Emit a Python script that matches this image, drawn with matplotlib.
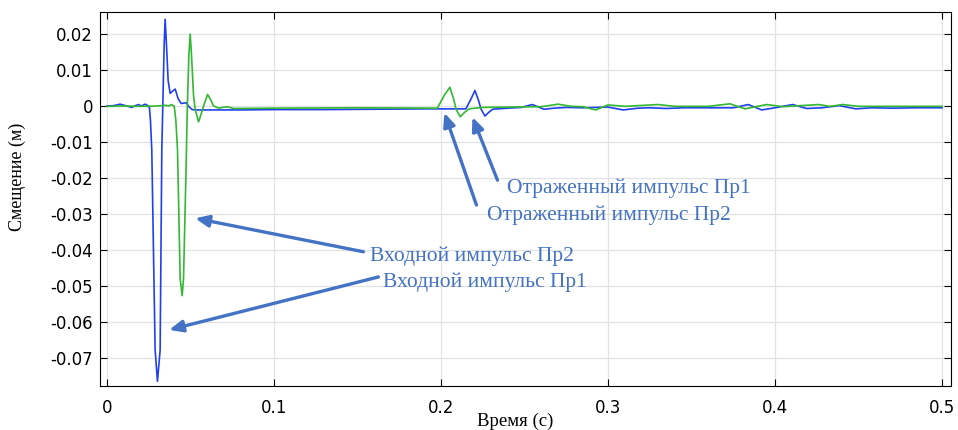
import matplotlib.pyplot as plt

plt.rcParams["axes.unicode_minus"] = False

# Pr1 (blue) — time, s / displacement, m
t_pr1 = [0.000, 0.004, 0.0078, 0.011, 0.0148, 0.0170, 0.0188, 0.0205, 0.0228, 0.0245,
         0.0254, 0.0260, 0.0268, 0.0288, 0.0302, 0.0318, 0.0328, 0.0334, 0.0342, 0.0348,
         0.0356, 0.0366, 0.0378, 0.0394, 0.0408, 0.0426, 0.0444, 0.0460, 0.0474, 0.0490,
         0.0510, 0.0530, 0.060, 0.080, 0.100, 0.130, 0.160, 0.190, 0.2149, 0.2180,
         0.2203, 0.2225, 0.2239, 0.2263, 0.2285, 0.2309, 0.240, 0.248, 0.2547, 0.2616,
         0.268, 0.275, 0.285, 0.300, 0.309, 0.318, 0.325, 0.335, 0.345, 0.360,
         0.375, 0.384, 0.392, 0.400, 0.4106, 0.419, 0.428, 0.4385, 0.4484, 0.458,
         0.470, 0.485, 0.500]
y_pr1 = [0.0000, 0.0001, 0.0005, 0.0001, -0.0004, 0.0001, 0.0004, 0.0000, 0.0005, 0.0001,
         -0.0005, -0.0040, -0.0122, -0.0678, -0.0765, -0.0678, -0.0122, 0.0000, 0.0170, 0.0241,
         0.0170, 0.0070, 0.0035, 0.0042, 0.0047, 0.0020, 0.0007, 0.0008, 0.0009, -0.0002,
         -0.0010, -0.0011, -0.0011, -0.0011, -0.0010, -0.0010, -0.0009, -0.0008, -0.0008, 0.0020,
         0.0043, 0.0015, -0.0008, -0.0028, -0.0018, -0.0009, -0.0006, -0.0004, 0.0004, -0.0009,
         -0.0006, -0.0004, -0.0005, -0.0003, -0.0011, -0.0006, -0.0005, -0.0007, -0.0005, -0.0005,
         -0.0005, 0.0004, -0.0011, -0.0005, 0.0004, -0.0007, -0.0005, 0.0001, -0.0008, -0.0005,
         -0.0006, -0.0005, -0.0005]

# Pr2 (green)
t_pr2 = [0.000, 0.010, 0.020, 0.030, 0.0350, 0.0370, 0.0385, 0.0395, 0.0402, 0.0412,
         0.0422, 0.0438, 0.0450, 0.0458, 0.0472, 0.0481, 0.0490, 0.0498, 0.0506, 0.0518,
         0.0528, 0.0548, 0.0562, 0.0578, 0.0602, 0.0620, 0.0638, 0.0668, 0.0718, 0.0760,
         0.100, 0.150, 0.1978, 0.2020, 0.2053, 0.2075, 0.2090, 0.2115, 0.2140, 0.2169,
         0.225, 0.240, 0.260, 0.270, 0.278, 0.285, 0.2926, 0.300, 0.310, 0.330,
         0.340, 0.360, 0.373, 0.382, 0.395, 0.405, 0.426, 0.433, 0.4406, 0.450,
         0.470, 0.500]
y_pr2 = [-0.0001, 0.0000, -0.0001, 0.0000, 0.0002, 0.0000, 0.0004, 0.0001, 0.0000, -0.0039,
         -0.0122, -0.0480, -0.0527, -0.0480, -0.0200, 0.0000, 0.0140, 0.0200, 0.0140, 0.0030,
         -0.0010, -0.0044, -0.0025, 0.0000, 0.0032, 0.0018, 0.0000, -0.0006, -0.0002, -0.0007,
         -0.0006, -0.0005, -0.0006, 0.0030, 0.0052, 0.0020, -0.0009, -0.0030, -0.0018, -0.0008,
         -0.0004, -0.0003, -0.0002, 0.0005, -0.0001, -0.0002, -0.0011, 0.0003, -0.0001, 0.0004,
         -0.0001, -0.0001, 0.0006, -0.0008, 0.0004, -0.0002, 0.0004, -0.0001, 0.0004, -0.0001,
         -0.0001, -0.0001]

x_ticks = [0, 0.1, 0.2, 0.3, 0.4, 0.5]
x_labels = ["0", "0.1", "0.2", "0.3", "0.4", "0.5"]
y_ticks = [0.02, 0.01, 0, -0.01, -0.02, -0.03, -0.04, -0.05, -0.06, -0.07]
y_labels = ["0.02", "0.01", "0", "-0.01", "-0.02", "-0.03", "-0.04", "-0.05", "-0.06", "-0.07"]

fig = plt.figure(figsize=(9.58, 4.30), dpi=100)
ax = fig.add_axes([0.1044, 0.1023, 0.888, 0.8697])

ax.plot(t_pr1, y_pr1, color="#2040f0", lw=1.2)
ax.plot(t_pr2, y_pr2, color="#33b833", lw=1.2)

ax.set_xlim(-0.0042, 0.5052)
ax.set_ylim(-0.0778, 0.0261)
ax.set_xticks(x_ticks, x_labels)
ax.set_yticks(y_ticks, y_labels)
ax.grid(True, color="#e2e2e2", lw=0.9)
ax.set_axisbelow(True)
ax.tick_params(direction="in", top=True, right=True, length=5, labelsize=12)
ax.tick_params(axis="y", pad=5)
ax.tick_params(axis="x", pad=9)

serif = "Liberation Serif"
ax.set_xlabel("Время (с)", family=serif, fontsize=13.5)
ax.xaxis.set_label_coords(0.488, -0.072)
ax.set_ylabel("Смещение (м)", family=serif, fontsize=13)
ax.yaxis.set_label_coords(-0.087, 0.559)

ann = "#4472c4"
arrow = dict(arrowstyle="-|>,head_length=0.8,head_width=0.35", color=ann, lw=2.4,
             shrinkA=0, shrinkB=0)
notes = [
    ("Отраженный импульс Пр1", (0.2398, -0.0228), (0.2338, -0.0206), (0.2188, -0.0031)),
    ("Отраженный импульс Пр2", (0.2278, -0.0303), (0.2212, -0.0275), (0.2020, -0.0019)),
    ("Входной импульс Пр2", (0.1577, -0.0417), (0.1535, -0.0405), (0.0528, -0.0312)),
    ("Входной импульс Пр1", (0.1655, -0.0489), (0.1625, -0.0475), (0.0372, -0.0622)),
]
for text, pos, tail, tip in notes:
    ax.annotate("", xy=tip, xytext=tail, arrowprops=arrow)
    ax.text(pos[0], pos[1], text, family=serif, fontsize=15.5, color=ann,
            ha="left", va="center")

fig.savefig("out.png", dpi=100)
